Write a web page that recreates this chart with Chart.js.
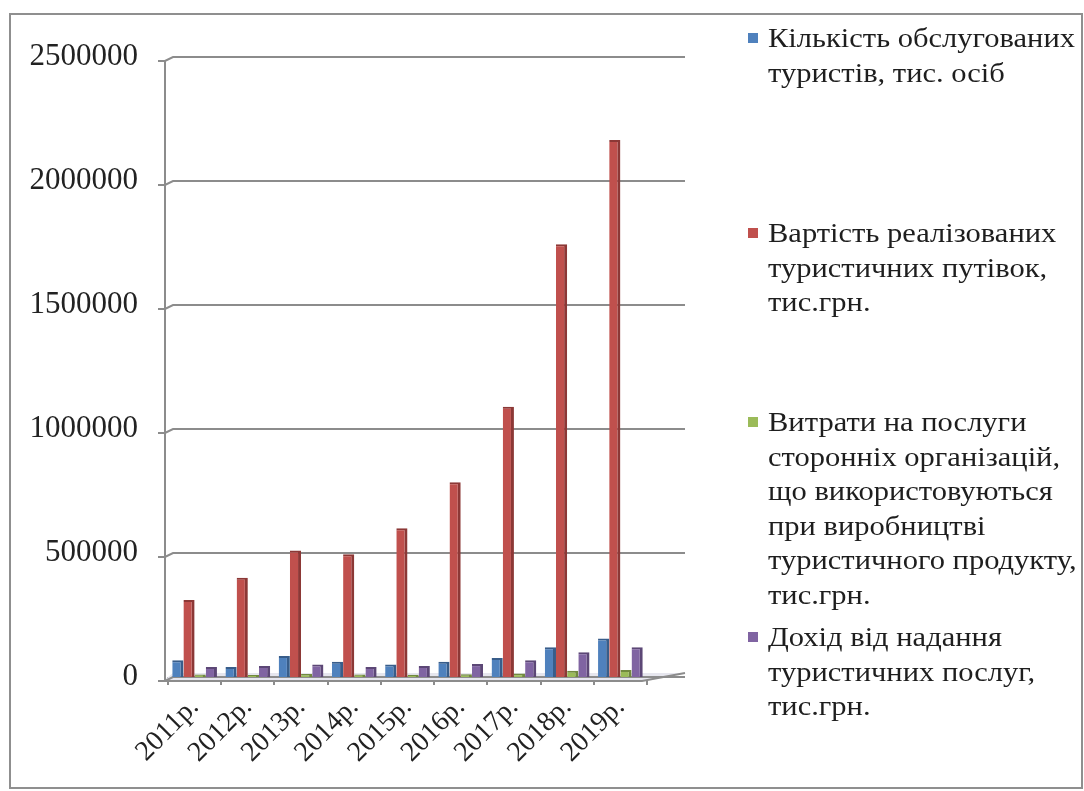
<!DOCTYPE html>
<html>
<head>
<meta charset="utf-8">
<script src="https://cdn.jsdelivr.net/npm/chart.js@4.4.1/dist/chart.umd.min.js"></script>
<style>
  html, body { margin: 0; padding: 0; background: #fff; }
  #wrap { position: relative; width: 1084px; height: 791px; overflow: hidden; }
  #frame { position: absolute; left: 9px; top: 13px; width: 1074px; height: 776px; border: 2px solid #8f8f8f; box-sizing: border-box; }
  canvas { position: absolute; left: 0; top: 0; }
  .leg { position: absolute; left: 746px; font-family: "Liberation Serif", "Times New Roman", serif; font-size: 28px; line-height: 34.5px; color: #1e1e1e; }
  .leg .sw { position: absolute; left: 2px; top: 12px; width: 10px; height: 10px; }
  .leg .tx { margin-left: 22px; white-space: nowrap; transform: scaleX(1.09); transform-origin: 0 0; }
</style>
</head>
<body>
<div id="wrap">
  <div id="frame"></div>
  <canvas id="c" width="1084" height="791"></canvas>
  <div id="legend"></div>
</div>
<script>
const categories = ["2011р.", "2012р.", "2013р.", "2014р.", "2015р.", "2016р.", "2017р.", "2018р.", "2019р."];
const seriesNames = [
  ["Кількість обслугованих", "туристів, тис.  осіб"],
  ["Вартість реалізованих", "туристичних путівок,", "тис.грн."],
  ["Витрати на послуги", "сторонніх організацій,", "що використовуються", "при виробництві", "туристичного продукту,", "тис.грн."],
  ["Дохід від надання", "туристичних послуг,", "тис.грн."]
];
const tourists = [68000, 40000, 85000, 61000, 50000, 61000, 77000, 120000, 155000];
const tripsValue = [310000, 400000, 510000, 495000, 600000, 785000, 1090000, 1745000, 2165000];
const thirdPartyCosts = [10000, 8000, 12000, 10000, 9000, 11000, 14000, 25000, 28000];
const serviceIncome = [40000, 44000, 50000, 40000, 44000, 52000, 68000, 100000, 120000];
const yTicks = [0, 500000, 1000000, 1500000, 2000000, 2500000];

const colors = ["#4F81BD", "#C0504D", "#9BBB59", "#8064A2"];
const sides = ["#385D8A", "#8C3836", "#71893F", "#5C4776"];
const legendTops = [21, 216, 405, 620];

// HTML legend
const leg = document.getElementById('legend');
seriesNames.forEach((lines, i) => {
  const d = document.createElement('div');
  d.className = 'leg';
  d.style.top = legendTops[i] + 'px';
  const sw = document.createElement('div');
  sw.className = 'sw';
  sw.style.background = colors[i];
  d.appendChild(sw);
  const t = document.createElement('div');
  t.className = 'tx';
  t.innerHTML = lines.join('<br>');
  d.appendChild(t);
  leg.appendChild(d);
});

const backWall = {
  id: 'backWall',
  beforeDatasetsDraw(chart) {
    const ctx = chart.ctx;
    const y = chart.scales.y;
    const area = chart.chartArea;
    const axX = area.left - 3;
    ctx.save();
    ctx.strokeStyle = '#8c8c8c';
    ctx.lineWidth = 2;
    // floor
    ctx.fillStyle = '#e6e6ee';
    const y0 = y.getPixelForValue(0);
    ctx.beginPath();
    ctx.moveTo(axX - 2, y0 + 4);
    ctx.lineTo(area.right - 5, y0 + 4);
    ctx.lineTo(area.right + 38, y0 - 4);
    ctx.lineTo(axX + 8, y0 - 4);
    ctx.closePath();
    ctx.fill();
    yTicks.forEach(v => {
      const py = y.getPixelForValue(v);
      ctx.beginPath();
      ctx.moveTo(axX - 7, py + 4);
      ctx.lineTo(axX, py + 4);
      ctx.lineTo(axX + 8, py);
      ctx.lineTo(area.right + 38, py);
      ctx.stroke();
    });
    // y axis line
    ctx.beginPath();
    ctx.moveTo(axX, y.getPixelForValue(2500000) + 4);
    ctx.lineTo(axX, y0 + 5);
    ctx.stroke();
    // front floor edge
    ctx.beginPath();
    ctx.moveTo(axX - 2, y0 + 4);
    ctx.lineTo(area.right - 5, y0 + 4);
    ctx.lineTo(area.right + 38, y0 - 4);
    ctx.stroke();
    ctx.restore();
  }
};

const mk = (label, data, i) => ({
  label, data,
  backgroundColor: colors[i],
  borderColor: sides[i],
  borderWidth: { top: 2, right: 3, bottom: 0, left: 0 },
  borderSkipped: false,
  categoryPercentage: 0.84,
  barPercentage: 1.0
});

new Chart(document.getElementById('c'), {
  type: 'bar',
  data: {
    labels: categories,
    datasets: [
      mk(seriesNames[0].join(' '), tourists, 0),
      mk(seriesNames[1].join(' '), tripsValue, 1),
      mk(seriesNames[2].join(' '), thirdPartyCosts, 2),
      mk(seriesNames[3].join(' '), serviceIncome, 3)
    ]
  },
  options: {
    responsive: false,
    animation: false,
    events: [],
    layout: { padding: { top: 57, right: 437, bottom: 0, left: 0 } },
    plugins: { legend: { display: false }, tooltip: { enabled: false } },
    scales: {
      y: {
        min: 0, max: 2500000,
        afterFit(s) { s.width = 168; },
        afterBuildTicks(s) { s.ticks = yTicks.map(v => ({ value: v })); },
        grid: { display: false },
        border: { display: false },
        ticks: {
          padding: 22,
          color: '#222',
          font: { family: 'Liberation Serif', size: 31 },
          callback: v => String(v)
        }
      },
      x: {
        afterFit(s) { s.height = 791 - 677; },
        grid: { display: true, drawOnChartArea: false, offset: true, tickLength: 8, color: '#8c8c8c', lineWidth: 2 },
        border: { display: false },
        ticks: {
          autoSkip: false,
          minRotation: 45, maxRotation: 45,
          padding: 6,
          color: '#222',
          font: { family: 'Liberation Serif', size: 28 }
        }
      }
    }
  },
  plugins: [backWall]
});
</script>
</body>
</html>
